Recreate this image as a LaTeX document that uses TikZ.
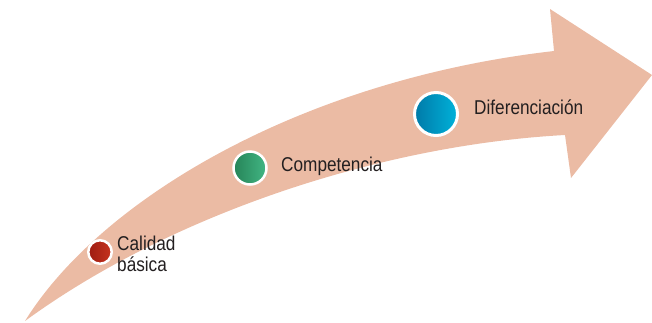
\documentclass[tikz,border=0pt]{standalone}
\usepackage{fontspec}
\setmainfont{Liberation Sans}[FakeStretch=0.86]
\usepackage{xcolor}
\definecolor{salmon}{RGB}{235,187,164}
\definecolor{ink}{RGB}{35,31,32}
\tikzset{
  dot/.style={circle,draw=white,line width=2.5pt,inner sep=0pt},
  label text/.style={text=ink,inner sep=0pt,anchor=base west,
    font=\fontsize{20}{21}\selectfont}
}

\begin{document}
\begin{tikzpicture}[x=1pt,y=-1pt]
    \useasboundingbox (0,0) rectangle (652,322);

    \coordinate (tail) at (25,321);
    \coordinate (up) at (554,51);
    \coordinate (low) at (565,135);
    \coordinate (barbup) at (550,9);
    \coordinate (tip) at (652,75);
    \coordinate (barblow) at (571,178);

    \fill[salmon] (tail) .. controls (100,200) and (300,80) .. (up)
        -- (barbup) -- (tip) -- (barblow) -- (low)
        .. controls (380,145) and (170,215) .. (tail) -- cycle;

    \node[dot,minimum size=23.5pt,left color={rgb,255:red,158;green,28;blue,18},
        right color={rgb,255:red,198;green,52;blue,30}] (basica) at (100,252) {};
    \node[dot,minimum size=33pt,left color={rgb,255:red,38;green,132;blue,88},
        right color={rgb,255:red,66;green,182;blue,132}] (compet) at (250,168) {};
    \node[dot,line width=3pt,minimum size=43pt,left color={rgb,255:red,0;green,122;blue,168},
        right color={rgb,255:red,0;green,178;blue,218}] (difer) at (436,114) {};

    \node[label text,align=left] (basicatext) at (117,271) {Calidad\\básica};
    \node[label text] (compettext) at (281,171) {Competencia};
    \node[label text] (difertext) at (474,114) {Diferenciación};
\end{tikzpicture}
\end{document}
